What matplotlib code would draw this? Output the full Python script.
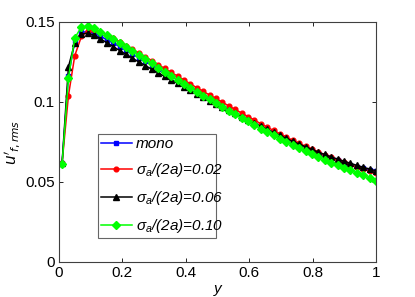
import numpy as np
import matplotlib
matplotlib.use("Agg")
import matplotlib.pyplot as plt

y_pos = [0.010, 0.030, 0.050, 0.071, 0.091, 0.111, 0.131, 0.151, 0.172, 0.192,
         0.212, 0.232, 0.252, 0.273, 0.293, 0.313, 0.333, 0.353, 0.374, 0.394,
         0.414, 0.434, 0.454, 0.475, 0.495, 0.515, 0.535, 0.555, 0.576, 0.596,
         0.616, 0.636, 0.656, 0.677, 0.697, 0.717, 0.737, 0.757, 0.778, 0.798,
         0.818, 0.838, 0.858, 0.879, 0.899, 0.919, 0.939, 0.959, 0.980, 1.000]

mono = [0.0620, 0.1160, 0.1380, 0.1435, 0.1440, 0.1430, 0.1410, 0.1390, 0.1368, 0.1345,
        0.1322, 0.1299, 0.1276, 0.1253, 0.1230, 0.1207, 0.1184, 0.1161, 0.1138, 0.1115,
        0.1092, 0.1069, 0.1046, 0.1024, 0.1002, 0.0980, 0.0958, 0.0936, 0.0914, 0.0893,
        0.0872, 0.0851, 0.0830, 0.0810, 0.0790, 0.0770, 0.0751, 0.0733, 0.0715, 0.0698,
        0.0681, 0.0665, 0.0650, 0.0635, 0.0621, 0.0608, 0.0596, 0.0585, 0.0575, 0.0566]

s002 = [0.0620, 0.1040, 0.1290, 0.1410, 0.1445, 0.1450, 0.1440, 0.1420, 0.1398, 0.1375,
        0.1352, 0.1329, 0.1305, 0.1282, 0.1258, 0.1234, 0.1210, 0.1186, 0.1162, 0.1138,
        0.1114, 0.1090, 0.1067, 0.1044, 0.1022, 0.0999, 0.0976, 0.0954, 0.0931, 0.0909,
        0.0887, 0.0865, 0.0843, 0.0822, 0.0801, 0.0781, 0.0761, 0.0742, 0.0723, 0.0705,
        0.0687, 0.0670, 0.0653, 0.0637, 0.0622, 0.0608, 0.0594, 0.0581, 0.0567, 0.0554]

s006 = [0.0620, 0.1220, 0.1370, 0.1425, 0.1430, 0.1418, 0.1395, 0.1370, 0.1345, 0.1321,
        0.1297, 0.1273, 0.1250, 0.1227, 0.1204, 0.1182, 0.1160, 0.1138, 0.1116, 0.1094,
        0.1072, 0.1051, 0.1030, 0.1009, 0.0989, 0.0968, 0.0948, 0.0928, 0.0908, 0.0888,
        0.0868, 0.0848, 0.0829, 0.0810, 0.0791, 0.0772, 0.0754, 0.0737, 0.0720, 0.0703,
        0.0687, 0.0672, 0.0657, 0.0643, 0.0630, 0.0617, 0.0604, 0.0592, 0.0581, 0.0570]

s010 = [0.0610, 0.1150, 0.1400, 0.1470, 0.1472, 0.1460, 0.1440, 0.1418, 0.1394, 0.1369,
        0.1344, 0.1319, 0.1293, 0.1267, 0.1241, 0.1215, 0.1190, 0.1164, 0.1139, 0.1114,
        0.1089, 0.1064, 0.1040, 0.1016, 0.0992, 0.0969, 0.0946, 0.0923, 0.0900, 0.0878,
        0.0856, 0.0834, 0.0812, 0.0791, 0.0770, 0.0750, 0.0730, 0.0710, 0.0691, 0.0672,
        0.0654, 0.0637, 0.0620, 0.0603, 0.0587, 0.0572, 0.0557, 0.0543, 0.0523, 0.0508]

labels = ["mono", r"$\sigma_a$/(2a)=0.02", r"$\sigma_a$/(2a)=0.06", r"$\sigma_a$/(2a)=0.10"]
x_ticks = [0, 0.2, 0.4, 0.6, 0.8, 1]
x_ticklabels = ["0", "0.2", "0.4", "0.6", "0.8", "1"]
y_ticks = [0, 0.05, 0.1, 0.15]
y_ticklabels = ["0", "0.05", "0.1", "0.15"]

plt.rcParams['font.family'] = ['Liberation Sans', 'DejaVu Sans']
plt.rcParams['mathtext.fontset'] = 'custom'
plt.rcParams['mathtext.rm'] = 'Liberation Sans'
plt.rcParams['mathtext.it'] = 'Liberation Sans:italic'
plt.rcParams['mathtext.bf'] = 'Liberation Sans:bold'

fig = plt.figure(figsize=(4.15, 2.97), dpi=100)
ax = fig.add_axes([0.142, 0.118, 0.764, 0.808])

styles = [
    dict(color='#0000ff', marker='s', ms=2.6),
    dict(color='#ff0000', marker='o', ms=3.4),
    dict(color='#000000', marker='^', ms=4.0),
    dict(color='#00ff00', marker='D', ms=3.6),
]
for data, lab, st in zip([mono, s002, s006, s010], labels, styles):
    ax.plot(y_pos, data, color=st['color'], marker=st['marker'], ms=st['ms'],
            mfc=st['color'], mec=st['color'], lw=1.1, label=lab)

ax.set_xlim(0, 1)
ax.set_ylim(0, 0.15)
ax.set_xticks(x_ticks)
ax.set_xticklabels(x_ticklabels)
ax.set_yticks(y_ticks)
ax.set_yticklabels(y_ticklabels)
ax.tick_params(direction='in', top=True, right=True, labelsize=11, length=3, width=0.6, pad=3)
for sp in ax.spines.values():
    sp.set_linewidth(0.8)
    sp.set_color('#404040')

ax.set_xlabel('y', fontstyle='italic', fontsize=11, labelpad=1)
ax.set_ylabel(r"$u'_{f,rms}$", fontsize=11, labelpad=2, math_fontfamily='dejavusans')

leg = ax.legend(loc='upper left', bbox_to_anchor=(0.123, 0.533, 0.372, 0.0),
                mode='expand', frameon=True, fancybox=False,
                handlelength=2.0, borderpad=0.2, labelspacing=0.66, handletextpad=0.3,
                borderaxespad=0.0,
                prop={'style': 'italic', 'size': 11})
leg.get_frame().set_edgecolor('#404040')
leg.get_frame().set_linewidth(0.8)

fig.savefig('out.png', dpi=100)
